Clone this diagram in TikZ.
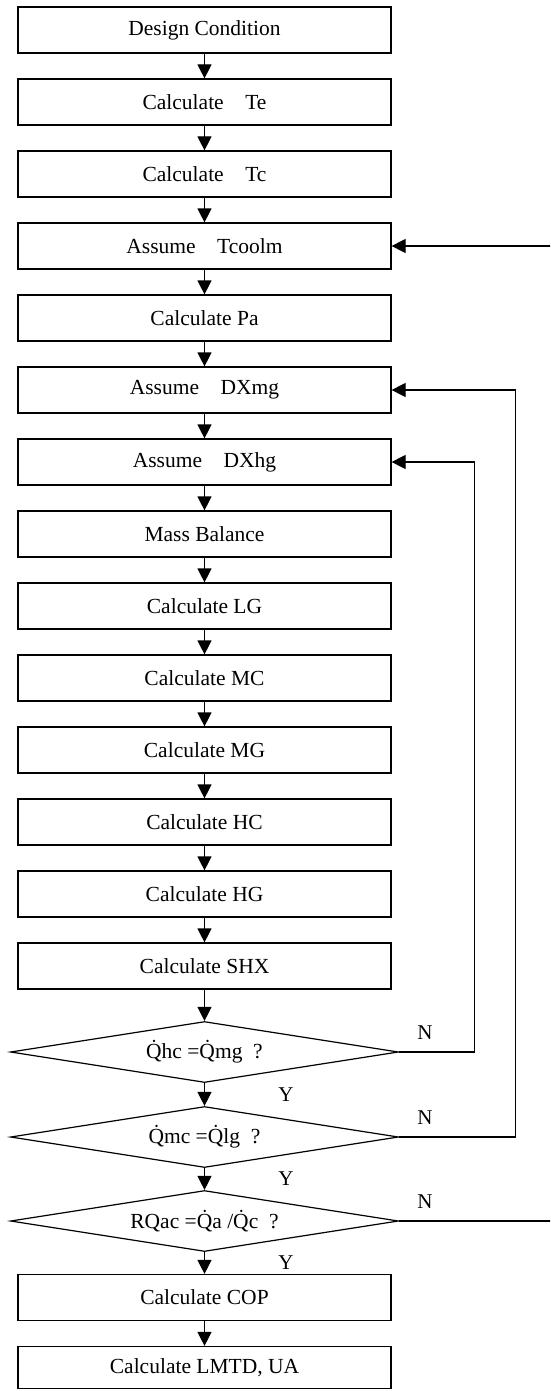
\documentclass[tikz,border=0pt]{standalone}
\usepackage{fontspec}
\setmainfont{Liberation Serif}
\usetikzlibrary{shapes.geometric,arrows.meta}

\begin{document}
\begin{tikzpicture}[x=1pt,y=-1pt]
	\tikzset{stage/.style={draw,line width=1.2pt,minimum width=373pt,minimum height=46pt,inner sep=0pt,font=\fontsize{21.5pt}{24pt}\selectfont},
		test/.style={draw,diamond,aspect=6.3,line width=1.2pt,minimum width=388pt,minimum height=61pt,inner sep=0pt,font=\fontsize{21.5pt}{24pt}\selectfont},
		flow/.style={-{Triangle[width=14pt,length=14pt]},line width=1.2pt},
		tag/.style={font=\fontsize{21pt}{24pt}\selectfont}}
	\useasboundingbox (0,0) rectangle (550,1391);
	\clip (0,0) rectangle (550,1391);
	% main chain
	\node[stage] (dc)    at (204.5,30)  {Design Condition};
	\node[stage] (te)    at (204.5,102) {Calculate\quad Te};
	\node[stage] (tc)    at (204.5,174) {Calculate\quad Tc};
	\node[stage] (tcool) at (204.5,246) {Assume\quad Tcoolm};
	\node[stage] (pa)    at (204.5,318) {Calculate Pa};
	\node[stage] (dxmg)  at (204.5,390) {Assume\quad DXmg};
	\node[stage] (dxhg)  at (204.5,462) {Assume\quad DXhg};
	\node[stage] (mb)    at (204.5,534) {Mass Balance};
	\node[stage] (lg)    at (204.5,606) {Calculate LG};
	\node[stage] (mc)    at (204.5,678) {Calculate MC};
	\node[stage] (mg)    at (204.5,750) {Calculate MG};
	\node[stage] (hc)    at (204.5,822) {Calculate HC};
	\node[stage] (hg)    at (204.5,894) {Calculate HG};
	\node[stage] (shx)   at (204.5,966) {Calculate SHX};
	% checks
	\node[test] (d1) at (204.5,1052) {\.{Q}hc =\.{Q}mg\enspace?};
	\node[test] (d2) at (204.5,1137) {\.{Q}mc =\.{Q}lg\enspace?};
	\node[test] (d3) at (204.5,1221) {RQac =\.{Q}a /\.{Q}c\enspace?};
	\node[stage] (cop)  at (204.5,1297.5) {Calculate COP};
	\node[stage,minimum height=42pt] (lmtd) at (204.5,1367.5) {Calculate LMTD, UA};
	\foreach \a/\b in {dc/te, te/tc, tc/tcool, tcool/pa, pa/dxmg, dxmg/dxhg, dxhg/mb, mb/lg, lg/mc, mc/mg, mg/hc, hc/hg, hg/shx, shx/d1, d1/d2, d2/d3, d3/cop, cop/lmtd}
		\draw[flow] (\a) -- (\b);
	% loops back
	\draw[flow] (d1.east) -- ++(75,0) |- (dxhg.east);
	\draw[flow] (d2.east) -- ++(116.5,0) |- (dxmg.east);
	\draw[flow] (d3.east) -- ++(170,0) |- (tcool.east);
	\node[tag] (n1) at (425,1033) {N};
	\node[tag] (n2) at (425,1118) {N};
	\node[tag] (n3) at (425,1202) {N};
	\node[tag] (y1) at (286,1095) {Y};
	\node[tag] (y2) at (286,1179) {Y};
	\node[tag] (y3) at (286,1263) {Y};
\end{tikzpicture}
\end{document}
